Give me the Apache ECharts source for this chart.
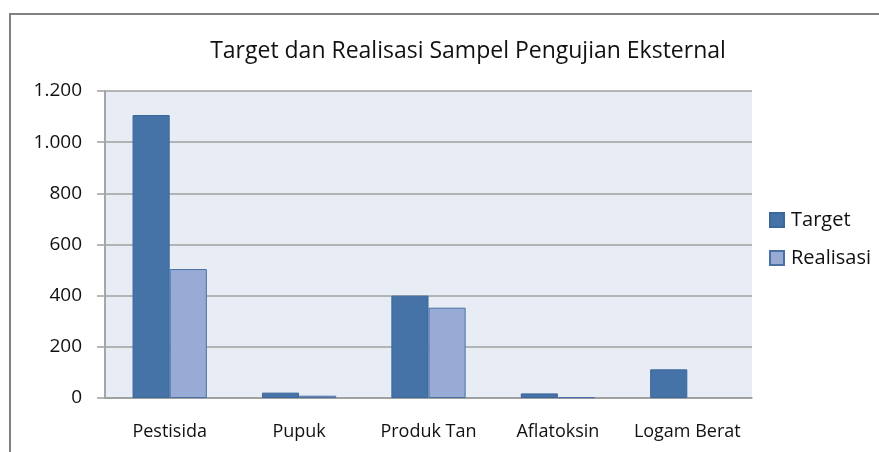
<!DOCTYPE html>
<html>
<head>
<meta charset="utf-8">
<script src="https://cdn.jsdelivr.net/npm/echarts@6/dist/echarts.min.js"></script>
<style>
  html, body { margin: 0; padding: 0; background: #fff; }
  #chart { width: 879px; height: 452px; }
</style>
</head>
<body>
<div id="chart"></div>
<script>
  const categories = ['Pestisida', 'Pupuk', 'Produk Tan', 'Aflatoksin', 'Logam Berat']
  const targetData = [1106, 21, 400, 18, 112]
  const realisasiData = [504, 9, 353, 3, 0]
  const seriesNames = ['Target', 'Realisasi']

  const chart = echarts.init(document.getElementById('chart'))
  const font = '"Open Sans", "Noto Sans", sans-serif'

  // no outline for empty bars (Excel draws nothing there)
  function withBorder(arr) {
    return arr.map(function (v) {
      return { value: v, itemStyle: { borderWidth: v ? 1 : 0 } }
    })
  }

  chart.setOption({
    animation: false,
    textStyle: { fontFamily: font },
    graphic: [
      {
        // outer chart frame (cropped on right / bottom)
        type: 'rect',
        shape: { x: 10, y: 14, width: 900, height: 480 },
        style: { fill: 'none', stroke: '#808080', lineWidth: 2 },
        z: -1
      }
    ],
    title: {
      text: 'Target dan Realisasi Sampel Pengujian Eksternal',
      left: 463,
      top: 35,
      textAlign: 'center',
      textStyle: { fontFamily: font, fontSize: 23, fontWeight: 'normal', color: '#111' }
    },
    legend: {
      data: seriesNames,
      orient: 'vertical',
      left: 764,
      top: 203,
      icon: 'rect',
      itemWidth: 14,
      itemHeight: 14,
      itemGap: 14,
      textStyle: { fontFamily: font, fontSize: 20, color: '#111', lineHeight: 24, padding: [0, 0, 0, 2] }
    },
    grid: {
      left: 105,
      top: 91,
      right: 127,
      bottom: 54,
      show: true,
      backgroundColor: '#e8ecf4',
      borderWidth: 0
    },
    xAxis: {
      type: 'category',
      data: categories,
      axisLine: { lineStyle: { color: '#9a9a9a', width: 1.5 } },
      axisTick: { show: false },
      axisLabel: { color: '#111', fontSize: 18, margin: 25, interval: 0, fontFamily: font }
    },
    yAxis: {
      type: 'value',
      min: 0,
      max: 1200,
      interval: 200,
      axisLine: { show: true, lineStyle: { color: '#a6a6a6', width: 2 } },
      axisTick: { show: true, length: 8, lineStyle: { color: '#a0a0a0', width: 1.5 } },
      splitLine: { lineStyle: { color: '#a0a0a0', width: 1.5 } },
      axisLabel: {
        color: '#111',
        fontSize: 19,
        margin: 23,
        fontFamily: font,
        formatter: function (v) {
          return String(v).replace(/\B(?=(\d{3})+(?!\d))/g, '.')
        }
      }
    },
    series: [
      {
        name: seriesNames[0],
        type: 'bar',
        data: withBorder(targetData),
        barGap: '0%',
        barCategoryGap: '42.6%',
        itemStyle: { color: '#4572a7', borderColor: '#3b679b', borderWidth: 1 }
      },
      {
        name: seriesNames[1],
        type: 'bar',
        data: withBorder(realisasiData),
        itemStyle: { color: '#97abd4', borderColor: '#4a70a4', borderWidth: 1 }
      }
    ]
  })
</script>
</body>
</html>
